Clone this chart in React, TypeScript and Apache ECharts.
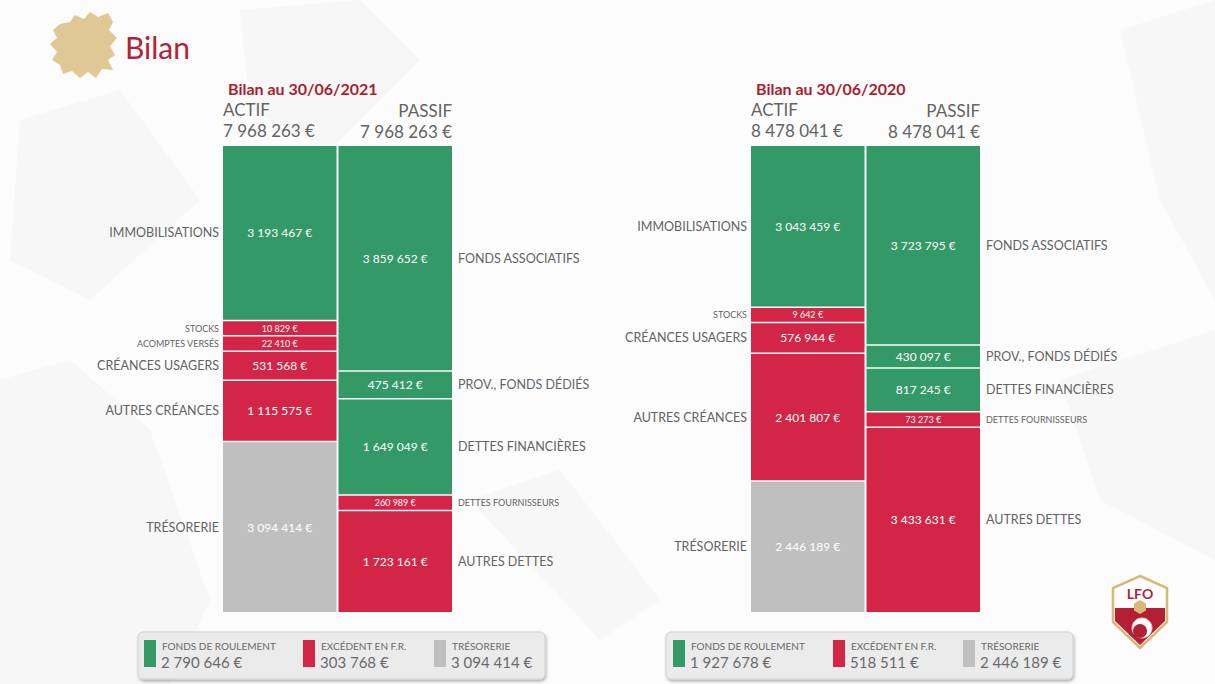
import React, { useEffect, useRef } from 'react';
import * as echarts from 'echarts';

// ---------- data ----------
const COLUMNS = ['ACTIF', 'PASSIF'];
const CHART_TITLES = ['Bilan au 30/06/2021', 'Bilan au 30/06/2020'];
const PAGE_TITLE = 'Bilan';

const actif2021Names = ['IMMOBILISATIONS', 'STOCKS', 'ACOMPTES VERSÉS', 'CRÉANCES USAGERS', 'AUTRES CRÉANCES', 'TRÉSORERIE'];
const actif2021Values = [3193467, 10829, 22410, 531568, 1115575, 3094414];
const actif2021Kinds = ['fr', 'ex', 'ex', 'ex', 'ex', 'tr'];

const passif2021Names = ['FONDS ASSOCIATIFS', 'PROV., FONDS DÉDIÉS', 'DETTES FINANCIÈRES', 'DETTES FOURNISSEURS', 'AUTRES DETTES'];
const passif2021Values = [3859652, 475412, 1649049, 260989, 1723161];
const passif2021Kinds = ['fr', 'fr', 'fr', 'ex', 'ex'];

const actif2020Names = ['IMMOBILISATIONS', 'STOCKS', 'CRÉANCES USAGERS', 'AUTRES CRÉANCES', 'TRÉSORERIE'];
const actif2020Values = [3043459, 9642, 576944, 2401807, 2446189];
const actif2020Kinds = ['fr', 'ex', 'ex', 'ex', 'tr'];

const passif2020Names = ['FONDS ASSOCIATIFS', 'PROV., FONDS DÉDIÉS', 'DETTES FINANCIÈRES', 'DETTES FOURNISSEURS', 'AUTRES DETTES'];
const passif2020Values = [3723795, 430097, 817245, 73273, 3433631];
const passif2020Kinds = ['fr', 'fr', 'fr', 'ex', 'ex'];

const legendLabels = ['FONDS DE ROULEMENT', 'EXCÉDENT EN F.R.', 'TRÉSORERIE'];
const legendKinds = ['fr', 'ex', 'tr'];
const legend2021Values = [2790646, 303768, 3094414];
const legend2020Values = [1927678, 518511, 2446189];

// ---------- styles ----------
const COLORS: Record<string, string> = { fr: '#339966', ex: '#d32546', tr: '#bfbfbf' };
const FONT = 'Lato, "Open Sans", sans-serif';
const TEXT_GRAY = '#636363';
const TITLE_RED = '#a91d31';
// a segment is never drawn thinner than this share of its column (like barMinHeight)
const MIN_SHARE = 0.033;

const fmt = (v: number) => v.toString().replace(/\B(?=(\d{3})+(?!\d))/g, ' ') + ' €';

type Seg = { col: number; start: number; end: number; value: number; name: string; kind: string; small: boolean; last: boolean };

function layoutColumn(names: string[], values: number[], kinds: string[], col: number): Seg[] {
  const total = values.reduce((a, b) => a + b, 0);
  const minV = MIN_SHARE * total;
  const small = values.map((v) => v < minV);
  const bigSum = values.reduce((a, v, i) => (small[i] ? a : a + v), 0);
  const remain = total - small.filter(Boolean).length * minV;
  const k = remain / bigSum;
  let acc = 0;
  return values.map((v, i) => {
    const d = small[i] ? minV : v * k;
    const seg = { col, start: acc, end: acc + d, value: v, name: names[i], kind: kinds[i], small: small[i], last: i === values.length - 1 };
    acc += d;
    return seg;
  });
}

const charts = [
  {
    title: CHART_TITLES[0],
    actif: layoutColumn(actif2021Names, actif2021Values, actif2021Kinds, 0),
    passif: layoutColumn(passif2021Names, passif2021Values, passif2021Kinds, 1),
    totalA: actif2021Values.reduce((a, b) => a + b, 0),
    totalP: passif2021Values.reduce((a, b) => a + b, 0),
    legend: legend2021Values,
    gridLeft: 222,
  },
  {
    title: CHART_TITLES[1],
    actif: layoutColumn(actif2020Names, actif2020Values, actif2020Kinds, 0),
    passif: layoutColumn(passif2020Names, passif2020Values, passif2020Kinds, 1),
    totalA: actif2020Values.reduce((a, b) => a + b, 0),
    totalP: passif2020Values.reduce((a, b) => a + b, 0),
    legend: legend2020Values,
    gridLeft: 750,
  },
];

const GRID_TOP = 146;
const GRID_H = 466;
const GRID_W = 231;

function buildOption() {
  const grids: any[] = [];
  const xAxes: any[] = [];
  const yAxes: any[] = [];
  const series: any[] = [];
  const graphics: any[] = [];

  // faint background brush strokes
  const bgPolys = [
    [[0, 380], [70, 360], [150, 430], [210, 600], [170, 684], [0, 684]],
    [[20, 120], [120, 90], [200, 200], [90, 300], [10, 260]],
    [[240, 10], [360, 0], [420, 60], [330, 150], [250, 110]],
    [[1120, 30], [1215, 0], [1215, 300], [1160, 200]],
    [[1060, 380], [1215, 330], [1215, 560], [1100, 500]],
    [[470, 500], [560, 470], [660, 600], [600, 640]],
  ];
  bgPolys.forEach((pts) =>
    graphics.push({ type: 'polygon', silent: true, z: -10, shape: { points: pts }, style: { fill: '#f2f2f2', opacity: 0.55 } })
  );

  // gold splash + title
  graphics.push({
    type: 'polygon',
    z: 1,
    shape: {
      points: [[60, 24], [70, 22], [75, 15], [84, 19], [90, 12], [98, 17], [108, 13], [113, 22], [109, 30], [117, 38], [110, 46], [115, 55], [108, 60], [113, 70], [102, 69], [96, 78], [88, 72], [80, 78], [72, 71], [63, 74], [60, 65], [52, 60], [57, 52], [50, 44], [57, 38], [53, 30]],
    },
    style: { fill: '#dec590', opacity: 0.95 },
  });
  graphics.push({
    type: 'text', x: 125, y: 47, z: 5,
    style: { text: PAGE_TITLE, font: `30px ${FONT}`, fill: '#b02338', textAlign: 'left', textVerticalAlign: 'middle', align: 'left', verticalAlign: 'middle' },
  });

  charts.forEach((c, ci) => {
    const left = c.gridLeft;
    const right = left + GRID_W - 1;
    grids.push({ left, top: GRID_TOP, width: GRID_W, height: GRID_H });
    xAxes.push({ type: 'category', gridIndex: ci, data: COLUMNS, show: false, boundaryGap: true });
    yAxes.push({ type: 'value', gridIndex: ci, min: 0, max: c.totalA, inverse: true, show: false });

    const segs = [...c.actif, ...c.passif];
    series.push({
      type: 'custom',
      xAxisIndex: ci,
      yAxisIndex: ci,
      clip: false,
      data: segs.map((s) => [s.col, s.start, s.end]),
      renderItem: (params: any, api: any) => {
        const s = segs[params.dataIndex];
        const top = api.coord([api.value(0), api.value(1)]);
        const bot = api.coord([api.value(0), api.value(2)]);
        const bw = api.size([1, 0])[0];
        const x = top[0] - bw / 2 + 1;
        const w = bw - 2;
        const y = top[1];
        const h = bot[1] - top[1] - (s.last ? 0 : 1.5);
        const cy = y + h / 2;
        const fs = s.small ? 9 : 12;
        const nameX = s.col === 0 ? x - 4 : x + w + 6;
        const nameAlign = s.col === 0 ? 'right' : 'left';
        return {
          type: 'group',
          children: [
            { type: 'rect', shape: { x, y, width: w, height: h }, style: { fill: COLORS[s.kind] } },
            {
              type: 'text', x: x + w / 2, y: cy,
              style: { text: fmt(s.value), font: `${fs}px ${FONT}`, fill: '#ffffff', textAlign: 'center', textVerticalAlign: 'middle', align: 'center', verticalAlign: 'middle' },
            },
            {
              type: 'text', x: nameX, y: cy,
              style: { text: s.name, font: `${s.small ? 9 : 12.5}px ${FONT}`, fill: TEXT_GRAY, textAlign: nameAlign, textVerticalAlign: 'middle', align: nameAlign, verticalAlign: 'middle' },
            },
          ],
        };
      },
    });

    // headers
    const t = (text: string, x: number, y: number, font: string, fill: string, align: string) => ({
      type: 'text', x, y,
      style: { text, font, fill, textAlign: align, textVerticalAlign: 'middle', align, verticalAlign: 'middle' },
    });
    graphics.push(t(c.title, left + 6, 88, `bold 16px ${FONT}`, TITLE_RED, 'left'));
    graphics.push(t(COLUMNS[0], left + 1, 109, `17px ${FONT}`, TEXT_GRAY, 'left'));
    graphics.push(t(fmt(c.totalA), left + 1, 130, `17px ${FONT}`, TEXT_GRAY, 'left'));
    graphics.push(t(COLUMNS[1], right, 110, `17px ${FONT}`, TEXT_GRAY, 'right'));
    graphics.push(t(fmt(c.totalP), right, 131, `17px ${FONT}`, TEXT_GRAY, 'right'));

    // legend box
    const bx = left - 84;
    graphics.push({
      type: 'rect',
      shape: { x: bx, y: 632, width: 407, height: 47, r: 5 },
      style: { fill: '#ebebeb', stroke: '#cfcfcf', lineWidth: 1, shadowBlur: 3, shadowOffsetY: 2, shadowOffsetX: 1, shadowColor: 'rgba(0,0,0,0.3)' },
    });
    const offs = ci === 0 ? [6, 165, 296] : [7, 167, 297];
    legendLabels.forEach((lab, li) => {
      const sx = bx + offs[li];
      graphics.push({ type: 'rect', shape: { x: sx, y: 640, width: 12, height: 27 }, style: { fill: COLORS[legendKinds[li]] } });
      graphics.push(t(lab, sx + 18, 646, `10px ${FONT}`, '#6a6a6a', 'left'));
      graphics.push(t(fmt(c.legend[li]), sx + 17, 662, `15px ${FONT}`, '#6a6a6a', 'left'));
    });
  });

  // LFO logo
  graphics.push({
    type: 'polygon',
    shape: { points: [[1140, 576], [1167, 588], [1167, 622], [1140, 648], [1113, 622], [1113, 588]] },
    style: { fill: '#ffffff', stroke: '#d8b877', lineWidth: 2.5 },
  });
  graphics.push({
    type: 'polygon',
    shape: { points: [[1115, 608], [1134, 608], [1140, 603], [1146, 608], [1165, 608], [1165, 621], [1140, 645], [1115, 621]] },
    style: { fill: '#b51f33' },
  });
  graphics.push({ type: 'circle', shape: { cx: 1142, cy: 628, r: 10 }, style: { fill: '#ffffff', stroke: '#e8c9cc', lineWidth: 1 } });
  graphics.push({ type: 'circle', shape: { cx: 1140, cy: 631, r: 7 }, style: { fill: '#b51f33' } });
  graphics.push({
    type: 'polygon',
    shape: { points: [[1140, 600], [1146, 603.5], [1146, 610.5], [1140, 614], [1134, 610.5], [1134, 603.5]] },
    style: { fill: '#d9b877' },
  });
  graphics.push({
    type: 'text', x: 1140, y: 593,
    style: { text: 'LFO', font: `bold 14px ${FONT}`, fill: '#b51f33', textAlign: 'center', textVerticalAlign: 'middle', align: 'center', verticalAlign: 'middle' },
  });

  return {
    animation: false,
    backgroundColor: '#fcfcfc',
    grid: grids,
    xAxis: xAxes,
    yAxis: yAxes,
    series,
    graphic: { elements: graphics },
  };
}

export default function App() {
  const ref = useRef<HTMLDivElement>(null);
  useEffect(() => {
    if (!ref.current) return;
    const chart = echarts.init(ref.current, undefined, { renderer: 'svg' });
    chart.setOption(buildOption() as any);
    return () => chart.dispose();
  }, []);
  return <div ref={ref} style={{ position: 'fixed', left: 0, top: 0, width: 1215, height: 684 }} />;
}
